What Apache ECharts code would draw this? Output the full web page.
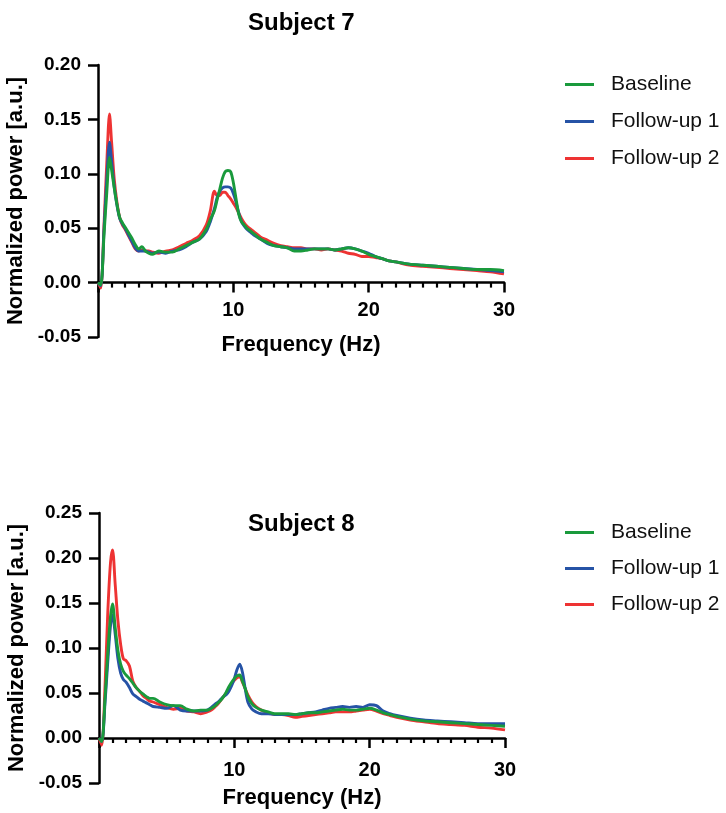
<!DOCTYPE html>
<html>
<head>
<meta charset="utf-8">
<script src="https://cdn.jsdelivr.net/npm/echarts@6/dist/echarts.min.js"></script>
<style>
html,body{margin:0;padding:0;background:#fff;}
#chart{width:726px;height:813px;}
</style>
</head>
<body>
<div id="chart"></div>
<script>
// Frequency (Hz) sample points
var freq = [0, 0.2, 0.45, 0.65, 0.85, 1.0, 1.2, 1.4, 1.6, 1.8, 2.0, 2.25, 2.5, 2.75, 3.0, 3.25, 3.5, 3.75, 4.0, 4.5, 5.0, 5.5, 6.0, 6.5, 7.0, 7.5, 8.0, 8.3, 8.6, 8.8, 9.0, 9.2, 9.4, 9.6, 9.8, 10.0, 10.2, 10.4, 10.6, 10.8, 11.0, 11.3, 11.6, 12.0, 12.5, 13.0, 13.5, 14.0, 14.5, 15.0, 15.5, 16.0, 16.5, 17.0, 17.5, 18.0, 18.5, 19.0, 19.5, 20.0, 20.5, 21.0, 21.5, 22.0, 23.0, 24.0, 25.0, 26.0, 27.0, 28.0, 29.0, 30.0];

var seriesNames = ['Baseline', 'Follow-up 1', 'Follow-up 2'];
var titles = ['Subject 7', 'Subject 8'];
var xTicks = [0, 10, 20, 30];
var yTicks7 = [-0.05, 0.00, 0.05, 0.10, 0.15, 0.20];
var yTicks8 = [-0.05, 0.00, 0.05, 0.10, 0.15, 0.20, 0.25];

// Subject 7
var s7Baseline = [0.000, -0.002, 0.045, 0.083, 0.115, 0.104, 0.087, 0.072, 0.060, 0.055, 0.051, 0.046, 0.041, 0.035, 0.031, 0.033, 0.029, 0.027, 0.026, 0.029, 0.028, 0.028, 0.031, 0.034, 0.037, 0.040, 0.049, 0.058, 0.066, 0.076, 0.086, 0.096, 0.102, 0.103, 0.102, 0.092, 0.077, 0.063, 0.056, 0.053, 0.050, 0.047, 0.044, 0.040, 0.037, 0.034, 0.033, 0.032, 0.029, 0.029, 0.030, 0.031, 0.031, 0.031, 0.030, 0.031, 0.032, 0.031, 0.029, 0.026, 0.024, 0.022, 0.020, 0.019, 0.017, 0.016, 0.015, 0.014, 0.013, 0.012, 0.012, 0.011];
var s7Follow1 = [0.000, -0.003, 0.050, 0.095, 0.129, 0.112, 0.088, 0.071, 0.059, 0.054, 0.050, 0.044, 0.038, 0.032, 0.029, 0.029, 0.029, 0.028, 0.027, 0.028, 0.027, 0.029, 0.030, 0.033, 0.037, 0.040, 0.047, 0.056, 0.068, 0.078, 0.084, 0.087, 0.088, 0.088, 0.087, 0.082, 0.074, 0.064, 0.056, 0.052, 0.049, 0.046, 0.043, 0.040, 0.036, 0.034, 0.033, 0.032, 0.031, 0.031, 0.031, 0.031, 0.031, 0.031, 0.030, 0.031, 0.032, 0.031, 0.029, 0.027, 0.024, 0.022, 0.020, 0.019, 0.017, 0.016, 0.015, 0.014, 0.013, 0.012, 0.011, 0.010];
var s7Follow2 = [0.000, -0.005, 0.055, 0.110, 0.155, 0.130, 0.095, 0.074, 0.060, 0.053, 0.049, 0.043, 0.037, 0.031, 0.029, 0.030, 0.029, 0.029, 0.028, 0.027, 0.029, 0.030, 0.033, 0.036, 0.039, 0.043, 0.053, 0.066, 0.084, 0.080, 0.080, 0.083, 0.083, 0.080, 0.077, 0.073, 0.069, 0.064, 0.059, 0.055, 0.052, 0.049, 0.046, 0.042, 0.039, 0.036, 0.034, 0.033, 0.032, 0.032, 0.031, 0.031, 0.030, 0.031, 0.030, 0.029, 0.027, 0.026, 0.024, 0.024, 0.023, 0.022, 0.020, 0.019, 0.016, 0.015, 0.014, 0.013, 0.012, 0.011, 0.010, 0.008];

// Subject 8
var s8Baseline = [0.000, -0.004, 0.045, 0.095, 0.135, 0.149, 0.122, 0.097, 0.082, 0.074, 0.070, 0.066, 0.061, 0.056, 0.052, 0.049, 0.046, 0.044, 0.044, 0.040, 0.037, 0.036, 0.036, 0.032, 0.030, 0.031, 0.031, 0.033, 0.036, 0.039, 0.042, 0.046, 0.051, 0.057, 0.062, 0.066, 0.069, 0.070, 0.063, 0.055, 0.046, 0.038, 0.034, 0.031, 0.029, 0.027, 0.027, 0.027, 0.026, 0.027, 0.028, 0.028, 0.029, 0.030, 0.031, 0.032, 0.031, 0.031, 0.032, 0.033, 0.031, 0.028, 0.026, 0.024, 0.021, 0.019, 0.018, 0.017, 0.016, 0.015, 0.014, 0.013];
var s8Follow1 = [0.000, -0.004, 0.040, 0.085, 0.125, 0.137, 0.115, 0.088, 0.072, 0.065, 0.062, 0.056, 0.049, 0.046, 0.043, 0.041, 0.039, 0.037, 0.035, 0.034, 0.033, 0.036, 0.031, 0.030, 0.030, 0.030, 0.031, 0.034, 0.038, 0.040, 0.043, 0.046, 0.048, 0.052, 0.058, 0.066, 0.076, 0.082, 0.073, 0.055, 0.040, 0.032, 0.029, 0.027, 0.027, 0.026, 0.026, 0.026, 0.026, 0.027, 0.028, 0.029, 0.031, 0.033, 0.034, 0.035, 0.034, 0.035, 0.034, 0.037, 0.036, 0.030, 0.027, 0.025, 0.022, 0.020, 0.019, 0.018, 0.017, 0.016, 0.016, 0.016];
var s8Follow2 = [0.000, -0.008, 0.060, 0.140, 0.195, 0.209, 0.170, 0.130, 0.104, 0.088, 0.086, 0.080, 0.063, 0.056, 0.052, 0.047, 0.044, 0.041, 0.040, 0.037, 0.034, 0.032, 0.033, 0.030, 0.029, 0.027, 0.029, 0.031, 0.035, 0.038, 0.042, 0.046, 0.050, 0.055, 0.060, 0.064, 0.067, 0.068, 0.062, 0.055, 0.048, 0.040, 0.035, 0.031, 0.028, 0.026, 0.026, 0.025, 0.023, 0.024, 0.025, 0.026, 0.027, 0.028, 0.029, 0.029, 0.029, 0.030, 0.031, 0.032, 0.030, 0.027, 0.025, 0.023, 0.020, 0.018, 0.016, 0.015, 0.014, 0.012, 0.011, 0.009];

var colors = {'Baseline': '#1a9a3c', 'Follow-up 1': '#2653a6', 'Follow-up 2': '#ee3333'};

function pairs(vals) {
  return freq.map(function (f, i) { return [f, vals[i]]; });
}

var chart = echarts.init(document.getElementById('chart'), null, {renderer: 'canvas'});

var grids = [
  {left: 98, top: 65, width: 406, height: 272, outerBoundsMode: 'none', containLabel: false},
  {left: 99, top: 513, width: 406, height: 270, outerBoundsMode: 'none', containLabel: false}
];
var yMin = -0.05;
var yMax = [yTicks7[yTicks7.length - 1], yTicks8[yTicks8.length - 1]];
// shift the x axis up from the grid bottom to the zero line
var xOffset = [0, 1].map(function (k) {
  return -grids[k].height * (0 - yMin) / (yMax[k] - yMin);
});
var labelMargin = [18, 22];
var nameGapX = [51, 49];
var dataSets = [
  {'Baseline': s7Baseline, 'Follow-up 1': s7Follow1, 'Follow-up 2': s7Follow2},
  {'Baseline': s8Baseline, 'Follow-up 1': s8Follow1, 'Follow-up 2': s8Follow2}
];

var option = {
  animation: false,
  backgroundColor: '#fff',
  textStyle: {fontFamily: 'Liberation Sans'},
  title: [
    {text: titles[0], left: 243, top: 6, textStyle: {fontSize: 24, fontWeight: 'bold', color: '#000', fontFamily: 'Liberation Sans'}},
    {text: titles[1], left: 243, top: 507, textStyle: {fontSize: 24, fontWeight: 'bold', color: '#000', fontFamily: 'Liberation Sans'}}
  ],
  legend: [
    {data: seriesNames, orient: 'vertical', left: 560, top: 69, itemWidth: 29, itemHeight: 3, icon: 'rect', itemGap: 16,
     textStyle: {fontSize: 21, lineHeight: 21, color: '#111', padding: [0, 0, 0, 12], fontFamily: 'Liberation Sans'}},
    {data: seriesNames, orient: 'vertical', left: 560, top: 517, itemWidth: 29, itemHeight: 3, icon: 'rect', itemGap: 15,
     textStyle: {fontSize: 21, lineHeight: 21, color: '#111', padding: [0, 0, 0, 12], fontFamily: 'Liberation Sans'}}
  ],
  grid: grids,
  xAxis: [0, 1].map(function (k) {
    return {
      type: 'value', gridIndex: k, min: xTicks[0], max: xTicks[xTicks.length - 1], interval: 10,
      position: 'bottom', offset: xOffset[k],
      axisLine: {show: true, onZero: false, lineStyle: {color: '#000', width: 2.5}},
      axisTick: {show: true, length: 10, lineStyle: {color: '#000', width: 2.5}},
      minorTick: {show: true, splitNumber: 10, length: 5, lineStyle: {color: '#000', width: 2.2}},
      splitLine: {show: false}, minorSplitLine: {show: false},
      axisLabel: {margin: labelMargin[k], fontSize: 20, fontWeight: 'bold', color: '#000', fontFamily: 'Liberation Sans',
        formatter: function (v) { return v === 0 ? '' : String(v); }},
      name: 'Frequency (Hz)', nameLocation: 'middle', nameGap: nameGapX[k],
      nameTextStyle: {fontSize: 22, fontWeight: 'bold', color: '#000', fontFamily: 'Liberation Sans'}
    };
  }),
  yAxis: [0, 1].map(function (k) {
    return {
      type: 'value', gridIndex: k, min: yMin, max: yMax[k], interval: 0.05,
      axisLine: {show: true, onZero: false, lineStyle: {color: '#000', width: 2.5}},
      axisTick: {show: true, length: 10, lineStyle: {color: '#000', width: 2.5}},
      splitLine: {show: false},
      axisLabel: {margin: 17, fontSize: 19, fontWeight: 'bold', color: '#000', fontFamily: 'Liberation Sans',
        formatter: function (v) { return v.toFixed(2); }},
      name: 'Normalized power [a.u.]', nameLocation: 'middle', nameGap: 65,
      nameTextStyle: {fontSize: 22, fontWeight: 'bold', color: '#000', fontFamily: 'Liberation Sans'}
    };
  }),
  series: []
};

// draw order: Follow-up 2 (bottom), Follow-up 1, Baseline (top)
var drawOrder = ['Follow-up 2', 'Follow-up 1', 'Baseline'];
[0, 1].forEach(function (k) {
  drawOrder.forEach(function (name) {
    option.series.push({
      name: name, type: 'line', xAxisIndex: k, yAxisIndex: k,
      data: pairs(dataSets[k][name]),
      showSymbol: false, smooth: 0.3, clip: false,
      lineStyle: {color: colors[name], width: 2.9},
      itemStyle: {color: colors[name]}
    });
  });
});

chart.setOption(option);
</script>
</body>
</html>
